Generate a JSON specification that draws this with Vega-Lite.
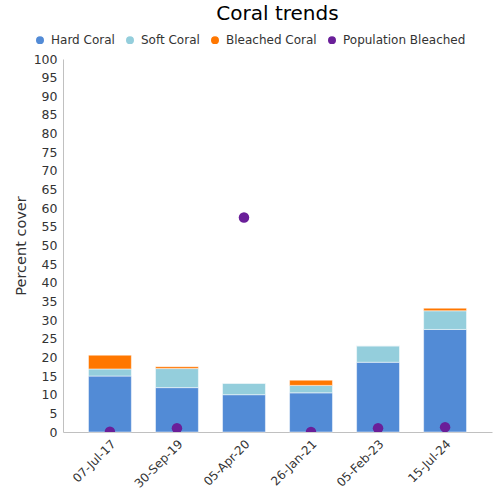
{
  "$schema": "https://vega.github.io/schema/vega-lite/v6.json",
  "width": 429,
  "height": 373,
  "autosize": {"type": "none"},
  "padding": {"left": 63, "top": 59, "right": 8, "bottom": 68},
  "background": "white",
  "config": {
    "font": "DejaVu Sans",
    "view": {"stroke": null}
  },
  "title": {
    "text": "Coral trends",
    "font": "DejaVu Sans",
    "fontSize": 20,
    "fontWeight": "normal",
    "color": "#000000",
    "anchor": "middle",
    "frame": "group",
    "offset": 10
  },
  "datasets": {
    "cover": [
      {"date": "07-Jul-17", "type": "Hard Coral", "order": 1, "value": 15.0},
      {"date": "07-Jul-17", "type": "Soft Coral", "order": 2, "value": 1.9},
      {"date": "07-Jul-17", "type": "Bleached Coral", "order": 3, "value": 3.7},
      {"date": "30-Sep-19", "type": "Hard Coral", "order": 1, "value": 11.9},
      {"date": "30-Sep-19", "type": "Soft Coral", "order": 2, "value": 5.1},
      {"date": "30-Sep-19", "type": "Bleached Coral", "order": 3, "value": 0.5},
      {"date": "05-Apr-20", "type": "Hard Coral", "order": 1, "value": 10.0},
      {"date": "05-Apr-20", "type": "Soft Coral", "order": 2, "value": 3.1},
      {"date": "05-Apr-20", "type": "Bleached Coral", "order": 3, "value": 0},
      {"date": "26-Jan-21", "type": "Hard Coral", "order": 1, "value": 10.5},
      {"date": "26-Jan-21", "type": "Soft Coral", "order": 2, "value": 2.0},
      {"date": "26-Jan-21", "type": "Bleached Coral", "order": 3, "value": 1.4},
      {"date": "05-Feb-23", "type": "Hard Coral", "order": 1, "value": 18.7},
      {"date": "05-Feb-23", "type": "Soft Coral", "order": 2, "value": 4.4},
      {"date": "05-Feb-23", "type": "Bleached Coral", "order": 3, "value": 0},
      {"date": "15-Jul-24", "type": "Hard Coral", "order": 1, "value": 27.5},
      {"date": "15-Jul-24", "type": "Soft Coral", "order": 2, "value": 5.0},
      {"date": "15-Jul-24", "type": "Bleached Coral", "order": 3, "value": 0.7}
    ],
    "pop": [
      {"date": "07-Jul-17", "type": "Population Bleached", "order": 4, "value": 0.1},
      {"date": "30-Sep-19", "type": "Population Bleached", "order": 4, "value": 1.0},
      {"date": "05-Apr-20", "type": "Population Bleached", "order": 4, "value": 57.5},
      {"date": "26-Jan-21", "type": "Population Bleached", "order": 4, "value": 0.0},
      {"date": "05-Feb-23", "type": "Population Bleached", "order": 4, "value": 1.0},
      {"date": "15-Jul-24", "type": "Population Bleached", "order": 4, "value": 1.3}
    ]
  },
  "encoding": {
    "x": {
      "field": "date",
      "type": "nominal",
      "sort": null,
      "title": null,
      "scale": {"paddingInner": 0.36, "paddingOuter": 0.38},
      "axis": {
        "labelAngle": -45,
        "labelFont": "DejaVu Sans",
        "labelFontSize": 12,
        "labelColor": "#333333",
        "domainColor": "#C0C0C0",
        "ticks": false,
        "labelPadding": 6
      }
    },
    "y": {
      "field": "value",
      "type": "quantitative",
      "stack": "zero",
      "title": "Percent cover",
      "scale": {"domain": [0, 100], "nice": false},
      "axis": {
        "values": [0,5,10,15,20,25,30,35,40,45,50,55,60,65,70,75,80,85,90,95,100],
        "labelOverlap": false,
        "grid": false,
        "ticks": false,
        "labelFont": "DejaVu Sans",
        "labelFontSize": 12.5,
        "labelColor": "#333333",
        "domainColor": "#C0C0C0",
        "titleFont": "DejaVu Sans",
        "titleFontSize": 14.5,
        "titleFontWeight": "normal",
        "titleColor": "#333333",
        "titlePadding": 5,
        "labelPadding": 6
      }
    },
    "order": {"field": "order", "type": "quantitative"},
    "color": {
      "field": "type",
      "type": "nominal",
      "scale": {
        "domain": ["Hard Coral", "Soft Coral", "Bleached Coral", "Population Bleached"],
        "range": ["#528BD6", "#94CEDC", "#FF7700", "#6A1F99"]
      },
      "legend": {
        "title": null,
        "orient": "none",
        "legendX": -29,
        "legendY": -25,
        "direction": "horizontal",
        "symbolType": "circle",
        "symbolSize": 90,
        "symbolOpacity": 1,
        "labelFont": "DejaVu Sans",
        "labelFontSize": 12,
        "labelColor": "#333333",
        "columnPadding": 7,
        "symbolOffset": 0,
        "labelOffset": 5
      }
    }
  },
  "layer": [
    {
      "data": {"name": "cover"},
      "mark": {"type": "bar", "stroke": "white", "strokeWidth": 0.5}
    },
    {
      "data": {"name": "pop"},
      "mark": {"type": "circle", "size": 110, "opacity": 1, "clip": true}
    }
  ]
}
